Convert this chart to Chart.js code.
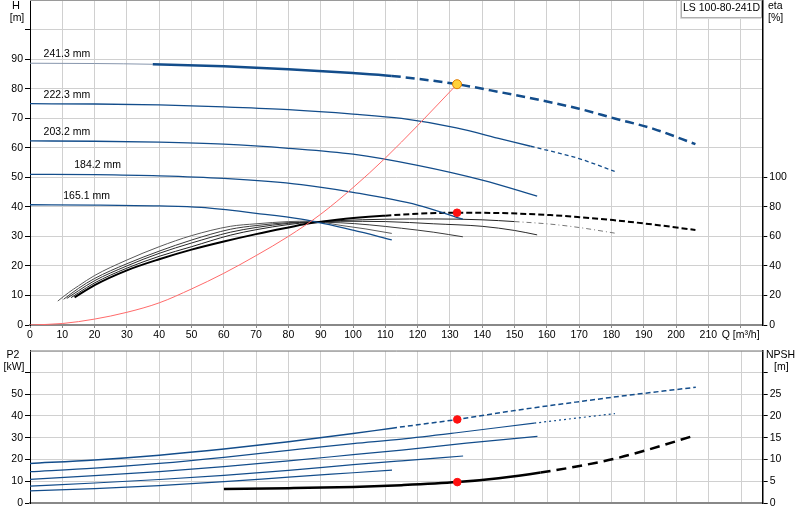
<!DOCTYPE html>
<html><head><meta charset="utf-8">
<script src="https://cdn.jsdelivr.net/npm/chart.js@4"></script>
<style>
html,body{margin:0;padding:0;background:#fff;}
#wrap{position:relative;width:800px;height:520px;overflow:hidden;}
canvas{position:absolute;left:0;}
#c1{top:0;}
#c2{top:340px;}
</style></head><body>
<div id="wrap"><canvas id="c1" width="800" height="340" style="width:800px;height:340px"></canvas><canvas id="c2" width="800" height="180" style="width:800px;height:180px"></canvas></div>
<script>
// ---------- DATA ----------
const diameters = ['241.3 mm','222.3 mm','203.2 mm','184.2 mm','165.1 mm'];
const pumpName = 'LS 100-80-241D';
const xTicks = [0,10,20,30,40,50,60,70,80,90,100,110,120,130,140,150,160,170,180,190,200,210,220];

// Head curves H [m]
const qH241 = [0,20,38,60,80,100,112,132.2,146,158,170,181,193,206];
const hH241 = [88.6,88.5,88.25,87.6,86.6,85.3,84.3,81.5,78.7,76.1,73.2,69.9,66.4,61.2];
const qH222 = [0,20,40,60,80,100,115,132,146,155,170,181];
const hH222 = [74.9,74.8,74.5,73.8,72.9,71.4,69.9,66.7,62.9,60.5,56.3,52.0];
const qH203 = [0,20,40,60,80,100,120,140,157];
const hH203 = [62.3,62.2,61.9,61.2,59.8,57.8,54.0,49.0,43.6];
const qH184 = [0,20,40,60,84,100,120,134];
const hH184 = [51.0,50.9,50.5,49.6,47.5,44.9,40.6,35.8];
const qH165 = [0,20,40,53,70,84,100,112];
const hH165 = [40.7,40.6,40.3,39.8,37.8,35.8,32.1,28.8];

// System curve
const qSys = [0,10,20,30,40,50,60,70,80,90,100,110,120,132.2];
const hSys = [0,0.5,2.0,4.3,7.5,12.2,17.5,23.5,30.0,37.5,46.5,56.5,67.5,81.5];

// Efficiency curves eta [%]
const qE241 = [13.8,20,30,40,50,60,70,80,87,95,110,120,132,145,161,170,180.5,193,206];
const vE241 = [18.7,27,37,44.5,51,56.5,61.5,66,69,71.3,74,75.3,76,75.8,74.4,73,71,68,64.3];
const qE222 = [12.7,15,20,30,40,50,62,70,80,87,96,110,125,140,150,161,170,181];
const vE222 = [18.5,21.8,28.5,38.5,46.5,53,60.8,64.5,68,69.6,70.7,71.6,71.8,71.2,70,68.3,66,62.2];
const qE203 = [11.4,15,20,30,40,50,62,70,80,87,96,110,125,140,150,157];
const vE203 = [18,23.2,30,40,48.5,55.5,62.8,66,68.8,69.8,70.2,70,68.5,66.8,64,61];
const qE184 = [10.4,15,20,30,40,50,62,70,80,87,96,105,115,125,134];
const vE184 = [17.4,24.8,31.5,41.5,50,57.5,64.8,67.3,69.3,69.6,69.2,67.8,65.5,62.8,59.7];
const qE165 = [8.6,12,15,20,30,40,50,62,70,80,87,96,104,112];
const vE165 = [16.2,22,26.5,33.5,44,53,60.5,66.8,68.5,70,70.3,67.5,65,62];

// Power P2 [kW]
const qP241 = [0,20,40,60,80,100,112,132.2,150,167,185,206];
const vP241 = [18.2,19.8,22.0,24.8,28.1,31.9,34.4,38.4,42.5,46.0,49.5,53.2];
const qP222 = [0,20,40,60,80,100,115,132,156,181];
const vP222 = [14.4,16.0,18.2,21.0,24.2,27.3,29.4,32.3,36.7,41.1];
const qP203 = [0,20,40,60,80,100,115,135,157];
const vP203 = [10.9,12.6,14.4,16.7,19.4,22.2,24.3,27.5,30.6];
const qP184 = [0,20,40,60,80,100,115,134];
const vP184 = [7.8,9.2,10.8,12.7,15.0,17.6,19.4,21.6];
const qP165 = [0,20,40,60,80,100,112];
const vP165 = [5.6,6.6,8.0,9.8,11.9,13.9,15.1];

// NPSH [m]
const qN = [60,80,100,115,132.2,145,158,170,181,191,206];
const vN = [3.2,3.4,3.7,4.1,4.8,5.7,7.0,8.5,10.2,12.2,15.6];

// Duty point
const dutyQ = 132.2, dutyH = 81.5, dutyEta = 76.0, dutyP2 = 38.4, dutyNPSH = 4.8;

// ---------- HELPERS ----------
const pts = (qs, vs) => qs.map((q, i) => ({x: q, y: vs[i]}));
const BLUE = '#134d8b';
const FONT = '"Liberation Sans", Arial, sans-serif';
Chart.defaults.font.family = FONT;
Chart.defaults.font.size = 10.5;
Chart.defaults.color = '#000';
const GRID = '#d0d0d0';

function line(data, axis, color, width, extra) {
  return Object.assign({type: 'line', data, yAxisID: axis, borderColor: color, borderWidth: width,
    pointRadius: 0, fill: false, cubicInterpolationMode: 'monotone'}, extra || {});
}
function zeroPad(s) {
  s.paddingTop = 0; s.paddingBottom = 0; s.paddingLeft = 0; s.paddingRight = 0;
}

function txt(ctx, s, x, y, align, size) {
  ctx.save();
  ctx.font = (size || 10.5) + 'px ' + FONT;
  ctx.fillStyle = '#000';
  ctx.textAlign = align || 'left';
  ctx.textBaseline = 'middle';
  ctx.fillText(s, x, y);
  ctx.restore();
}

// ---------- TOP CHART ----------
const topPlugin = {
  id: 'topDeco',
  afterDraw(chart) {
    const {ctx, chartArea: a, scales} = chart;
    ctx.save();
    ctx.strokeStyle = '#9a9a9a'; ctx.lineWidth = 1;
    ctx.beginPath(); ctx.moveTo(a.left, Math.max(a.top, 0) + 0.5); ctx.lineTo(a.right, Math.max(a.top, 0) + 0.5); ctx.stroke();
    ctx.restore();
    txt(ctx, 'H', 16, 6, 'center', 11);
    txt(ctx, '[m]', 17, 18, 'center');
    txt(ctx, 'eta', 768, 6, 'left');
    txt(ctx, '[%]', 768, 18, 'left');
    const x = scales.x, y = scales.y;
    const labelQ = [4.2, 4.2, 4.2, 13.7, 10.3];
    const labelH = [hH241[0], hH222[0], hH203[0], hH184[0], hH165[0]];
    diameters.forEach((d, i) => txt(ctx, d, x.getPixelForValue(labelQ[i]), y.getPixelForValue(labelH[i]) - 9, 'left'));
    // model box
    ctx.save();
    const bx = 681.5, by = 0.5, bw = 80, bh = 17;
    ctx.fillStyle = '#fff'; ctx.fillRect(bx, by, bw, bh);
    ctx.strokeStyle = '#b0b0b0'; ctx.lineWidth = 1; ctx.strokeRect(bx, by, bw, bh);
    ctx.strokeStyle = '#d8d8d8'; ctx.beginPath(); ctx.moveTo(bx - 1, by); ctx.lineTo(bx - 1, by + bh + 1); ctx.lineTo(bx + bw, by + bh + 1); ctx.stroke();
    ctx.restore();
    txt(ctx, pumpName, bx + bw / 2, 8, 'center');
  }
};

const topData = {datasets: [
  {type: 'line', data: [{x: dutyQ, y: dutyH}], yAxisID: 'y', showLine: false, pointRadius: 4.5,
   pointBackgroundColor: '#ffd23c', pointBorderColor: '#e07b00', pointBorderWidth: 1, order: -2},
  {type: 'line', data: [{x: dutyQ, y: dutyEta}], yAxisID: 'y2', showLine: false, pointRadius: 3.8,
   pointBackgroundColor: '#ff1010', pointBorderColor: '#ff1010', order: -2},
  line(pts(qSys, hSys), 'y', '#ff6a6a', 1, {order: -1}),
  line(pts(qH241, hH241), 'y', BLUE, 2.5, {segment: {
    borderWidth: c => c.p0.parsed.x < 38 ? 1 : 2.5,
    borderColor: c => c.p0.parsed.x < 38 ? '#8796ad' : BLUE,
    borderDash: c => c.p0.parsed.x >= 112 ? [9, 5] : undefined}}),
  line(pts(qH222, hH222), 'y', BLUE, 1.3, {segment: {
    borderDash: c => c.p0.parsed.x >= 155 ? [4, 3] : undefined}}),
  line(pts(qH203, hH203), 'y', BLUE, 1.3),
  line(pts(qH184, hH184), 'y', BLUE, 1.3),
  line(pts(qH165, hH165), 'y', BLUE, 1.3),
  line(pts(qE241, vE241), 'y2', '#000', 2, {segment: {
    borderDash: c => c.p0.parsed.x >= 110 ? [6, 3] : undefined}}),
  line(pts(qE222, vE222), 'y2', '#222', 1, {segment: {
    borderDash: c => c.p0.parsed.x >= 150 ? [5, 3, 1, 3] : undefined,
    borderColor: c => c.p0.parsed.x >= 150 ? '#777' : undefined}}),
  line(pts(qE203, vE203), 'y2', '#2a2a2a', 1),
  line(pts(qE184, vE184), 'y2', '#3a3a3a', 1),
  line(pts(qE165, vE165), 'y2', '#5a5a5a', 1)
]};

new Chart(document.getElementById('c1'), {
  type: 'line',
  data: topData,
  plugins: [topPlugin],
  options: {
    responsive: false, animation: false, devicePixelRatio: 1,
    layout: {padding: 0, autoPadding: false},
    plugins: {legend: {display: false}, tooltip: {enabled: false}},
    scales: {
      x: {type: 'linear', min: 0, max: 226.7,
        afterBuildTicks: s => { s.ticks = xTicks.map(v => ({value: v})); },
        ticks: {autoSkip: false, maxRotation: 0, padding: 1,
          callback: v => v === 220 ? 'Q [m³/h]' : String(v)},
        grid: {color: GRID, tickLength: 3, tickColor: '#888'},
        border: {color: '#888', width: 2},
        afterFit: s => { s.height = 15; zeroPad(s); }},
      y: {type: 'linear', position: 'left', min: 0, max: 110,
        ticks: {stepSize: 10, padding: 2, callback: v => v <= 90 ? String(v) : ''},
        grid: {color: GRID, tickLength: 5, tickColor: c => c.tick && c.tick.value <= 100 ? '#000' : 'rgba(0,0,0,0)'},
        border: {color: '#000', width: 1},
        afterFit: s => { s.width = 30; zeroPad(s); }},
      y2: {type: 'linear', position: 'right', min: 0, max: 220,
        ticks: {stepSize: 20, padding: 2, callback: v => v <= 100 ? String(v) : ''},
        grid: {drawOnChartArea: false, tickLength: 5, tickColor: c => c.tick && c.tick.value <= 100 ? '#000' : 'rgba(0,0,0,0)'},
        border: {color: '#000', width: 1.5},
        afterFit: s => { s.width = 37.7; zeroPad(s); }}
    }
  }
});

// ---------- BOTTOM CHART ----------
const botPlugin = {
  id: 'botDeco',
  afterDraw(chart) {
    const {ctx, chartArea: a} = chart;
    ctx.save();
    ctx.strokeStyle = '#8a8a8a'; ctx.lineWidth = 1;
    ctx.beginPath(); ctx.moveTo(a.left, a.top + 0.5); ctx.lineTo(a.right, a.top + 0.5); ctx.stroke();
    ctx.restore();
    txt(ctx, 'P2', 13, 15, 'center');
    txt(ctx, '[kW]', 14, 27, 'center');
    txt(ctx, 'NPSH', 766, 15, 'left');
    txt(ctx, '[m]', 774, 27, 'left');
  }
};

const botData = {datasets: [
  {type: 'line', data: [{x: dutyQ, y: dutyP2}], yAxisID: 'y', showLine: false, pointRadius: 3.8,
   pointBackgroundColor: '#ff1010', pointBorderColor: '#ff1010', order: -2},
  {type: 'line', data: [{x: dutyQ, y: dutyNPSH}], yAxisID: 'y2', showLine: false, pointRadius: 3.8,
   pointBackgroundColor: '#ff1010', pointBorderColor: '#ff1010', order: -2},
  line(pts(qP241, vP241), 'y', BLUE, 1.5, {segment: {
    borderDash: c => c.p0.parsed.x >= 112 ? [5, 3] : undefined}}),
  line(pts(qP222, vP222), 'y', BLUE, 1.2, {segment: {
    borderDash: c => c.p0.parsed.x >= 156 ? [2, 3] : undefined}}),
  line(pts(qP203, vP203), 'y', BLUE, 1.2),
  line(pts(qP184, vP184), 'y', BLUE, 1.2),
  line(pts(qP165, vP165), 'y', BLUE, 1.2),
  line(pts(qN, vN), 'y2', '#000', 2.5, {segment: {
    borderDash: c => c.p0.parsed.x >= 158 ? [10, 6] : undefined}})
]};

new Chart(document.getElementById('c2'), {
  type: 'line',
  data: botData,
  plugins: [botPlugin],
  options: {
    responsive: false, animation: false, devicePixelRatio: 1,
    layout: {padding: {top: 10.7, left: 0, right: 0, bottom: 0}, autoPadding: false},
    plugins: {legend: {display: false}, tooltip: {enabled: false}},
    scales: {
      x: {type: 'linear', min: 0, max: 226.7,
        afterBuildTicks: s => { s.ticks = xTicks.map(v => ({value: v})); },
        ticks: {display: false},
        grid: {color: GRID, drawTicks: false},
        border: {color: '#888', width: 2},
        afterFit: s => { s.height = 17; zeroPad(s); }},
      y: {type: 'linear', position: 'left', min: 0, max: 70,
        ticks: {stepSize: 10, padding: 2, callback: v => v <= 50 ? String(v) : ''},
        grid: {color: GRID, tickLength: 5, tickColor: c => c.tick && c.tick.value <= 60 ? '#000' : 'rgba(0,0,0,0)'},
        border: {color: '#000', width: 1},
        afterFit: s => { s.width = 30; zeroPad(s); }},
      y2: {type: 'linear', position: 'right', min: 0, max: 35,
        ticks: {stepSize: 5, padding: 2, callback: v => v <= 25 ? String(v) : ''},
        grid: {drawOnChartArea: false, tickLength: 5, tickColor: c => c.tick && c.tick.value <= 30 ? '#000' : 'rgba(0,0,0,0)'},
        border: {color: '#000', width: 1.5},
        afterFit: s => { s.width = 37.3; zeroPad(s); }}
    }
  }
});
</script>
</body></html>
